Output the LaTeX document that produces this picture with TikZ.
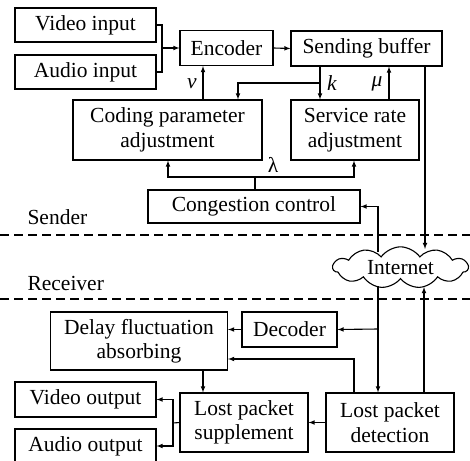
\documentclass[tikz,border=0pt]{standalone}
\usepackage{fontspec}
\setmainfont{Liberation Serif}
\usetikzlibrary{shapes.symbols}
\tikzset{
  blk/.style={draw, line width=1.1pt, inner sep=0pt, align=center,
    font=\fontsize{21.5}{24.5}\selectfont},
  arr/.style={-latex, line width=1.1pt},
  lnk/.style={line width=1.1pt},
  lbl/.style={font=\fontsize{21.5}{24.5}\selectfont},
  sep/.style={line width=1.1pt, dash pattern=on 9pt off 5pt}
}
\begin{document}
\begin{tikzpicture}[x=1pt,y=-1pt]
\useasboundingbox (0,0) rectangle (470,460);
% sender
\node[blk, minimum width=141pt, minimum height=34pt] (vin) at (85.5,25) {Video input};
\node[blk, minimum width=141pt, minimum height=34pt] (ain) at (85.5,72) {Audio input};
\node[blk, minimum width=93pt, minimum height=35pt] (enc) at (226.5,48) {Encoder};
\node[blk, minimum width=151pt, minimum height=35pt] (sbuf) at (366.5,48.5) {Sending buffer};
\node[blk, minimum width=189pt, minimum height=60pt] (cpa) at (167.5,130) {Coding parameter\\adjustment};
\node[blk, minimum width=128pt, minimum height=60pt] (sra) at (355,130) {Service rate\\adjustment};
\node[blk, minimum width=212pt, minimum height=33pt] (cc) at (254,206.5) {Congestion control};
\node[lbl, anchor=west] (snd) at (24,217) {Sender};
\node[lbl, anchor=west] (rcv) at (24,283) {Receiver};
\draw[sep] (0,235) -- (470,235);
\draw[sep] (0,299) -- (470,299);
\node[blk, cloud, cloud puffs=11, cloud puff arc=110, aspect=3.3,
  minimum width=135pt, minimum height=41pt] (net) at (400.5,267.5) {Internet};
% receiver
\node[blk, minimum width=95pt, minimum height=35pt] (dec) at (289.5,329.5) {Decoder};
\node[blk, minimum width=177pt, minimum height=58pt] (dfa) at (139,341) {Delay fluctuation\\absorbing};
\node[blk, minimum width=141pt, minimum height=35pt] (vout) at (85.5,399.5) {Video output};
\node[blk, minimum width=141pt, minimum height=34pt] (aout) at (85.5,446) {Audio output};
\node[blk, minimum width=128pt, minimum height=59pt] (lps) at (244,422.5) {Lost packet\\supplement};
\node[blk, minimum width=128pt, minimum height=59pt] (lpd) at (390,422.5) {Lost packet\\detection};
% connectors, sender side
\coordinate (jin) at (162,48);
\draw[lnk] (vin.east) -| (jin) |- (ain.east);
\draw[arr] (jin) -- (enc.west);
\draw[arr] (enc.east) -- (sbuf.west);
\draw[arr] (203,0 |- cpa.north) -- (203,0 |- enc.south);
\node[lbl] (v) at (192,84) {\textit{v}};
\coordinate (kj) at (320,83);
\draw[arr] (320,0 |- sbuf.south) -- (320,0 |- sra.north);
\draw[arr] (kj) -| (238,0 |- cpa.north);
\node[lbl] (k) at (332,83) {\textit{k}};
\draw[arr] (389,0 |- sra.north) -- (389,0 |- sbuf.south);
\node[lbl] (mu) at (377,84) {\textit{μ}};
\coordinate (lj) at (255,177);
\draw[lnk] (255,0 |- cc.north) -- (lj);
\draw[arr] (lj) -| (168,0 |- cpa.south);
\draw[arr] (lj) -| (354,0 |- sra.south);
\node[lbl] (lam) at (273,165) {λ};
\draw[arr] (425,0 |- sbuf.south) -- (425,249);
\draw[arr] (378,252) |- (cc.east);
% connectors, receiver side
\coordinate (dj) at (378,329);
\draw[arr] (378,286) -- (378,0 |- lpd.north);
\draw[arr] (dj) -- (dec.east);
\draw[arr] (424,0 |- lpd.north) -- (424,287);
\draw[arr] (dec.west) -- (dec.west -| dfa.east);
\draw[arr] (354,0 |- lpd.north) |- (dfa.east |- 0,359);
\draw[arr] (203,0 |- dfa.south) -- (203,0 |- lps.north);
\draw[arr] (lpd.west) -- (lps.east);
\coordinate (oj) at (173,423);
\draw[lnk] (lps.west) -- (oj);
\draw[arr] (oj) |- (vout.east);
\draw[arr] (oj) |- (aout.east);
\end{tikzpicture}
\end{document}
